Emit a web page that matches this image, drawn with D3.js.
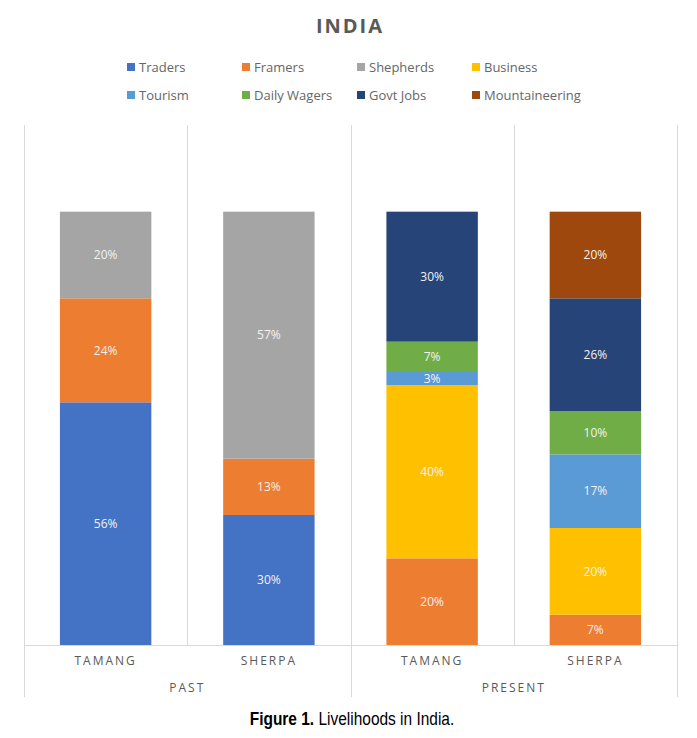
<!DOCTYPE html>
<html>
<head>
<meta charset="utf-8">
<script src="https://cdn.jsdelivr.net/npm/d3@7"></script>
<style>
  body { margin: 0; background: #fff; }
  svg { display: block; }
</style>
</head>
<body>
<div id="chart"></div>
<script>
// data (percent of households)
const periods = ["PAST", "PAST", "PRESENT", "PRESENT"];
const groups = ["TAMANG", "SHERPA", "TAMANG", "SHERPA"];
const series = ["Traders", "Framers", "Shepherds", "Business", "Tourism", "Daily Wagers", "Govt Jobs", "Mountaineering"];
const colors = ["#4472C4", "#ED7D31", "#A5A5A5", "#FFC000", "#5B9BD5", "#70AD47", "#264478", "#9E480E"];
const traders = [56, 30, 0, 0];
const framers = [24, 13, 20, 7];
const shepherds = [20, 57, 0, 0];
const business = [0, 0, 40, 20];
const tourism = [0, 0, 3, 17];
const dailyWagers = [0, 0, 7, 10];
const govtJobs = [0, 0, 30, 26];
const mountaineering = [0, 0, 0, 20];
const yTicks = [0, 120];

const values = [traders, framers, shepherds, business, tourism, dailyWagers, govtJobs, mountaineering];

const W = 697, H = 738;
const plot = {left: 24, right: 677, top: 125, bottom: 645};

const svg = d3.select("#chart")
  .append("svg")
    .attr("width", W)
    .attr("height", H);

// build rows for d3.stack
const rows = groups.map((g, i) => {
  const r = {key: i};
  series.forEach((s, j) => r[s] = values[j][i]);
  return r;
});

const x = d3.scaleBand()
  .domain(rows.map(d => d.key))
  .range([plot.left, plot.right])
  .paddingInner(0.44)
  .paddingOuter(0.22);

const y = d3.scaleLinear()
  .domain(d3.extent(yTicks))
  .range([plot.bottom, plot.top]);

const color = d3.scaleOrdinal().domain(series).range(colors);

const edges = d3.range(5).map(i => plot.left + i * (plot.right - plot.left) / 4);

// gridlines between categories
const grid = svg.append("g").attr("stroke", "#d9d9d9").attr("stroke-width", 1);
edges.forEach((e, i) => {
  const long = (i === 0 || i === 2 || i === 4);
  grid.append("line")
    .attr("x1", Math.round(e) + 0.5).attr("x2", Math.round(e) + 0.5)
    .attr("y1", plot.top).attr("y2", long ? 697 : plot.bottom);
});
grid.append("line")
  .attr("x1", plot.left).attr("x2", plot.right + 1)
  .attr("y1", plot.bottom + 0.5).attr("y2", plot.bottom + 0.5);

// stacked bars
const stacked = d3.stack().keys(series)(rows);

const layer = svg.append("g")
  .selectAll("g")
  .data(stacked)
  .join("g")
    .attr("fill", d => color(d.key));

layer.selectAll("rect")
  .data(d => d.filter(p => p[1] - p[0] > 0))
  .join("rect")
    .attr("x", d => x(d.data.key))
    .attr("width", x.bandwidth())
    .attr("y", d => y(d[1]))
    .attr("height", d => y(d[0]) - y(d[1]));

layer.selectAll("text")
  .data(d => d.filter(p => p[1] - p[0] > 0))
  .join("text")
    .attr("x", d => x(d.data.key) + x.bandwidth() / 2)
    .attr("y", d => (y(d[0]) + y(d[1])) / 2)
    .attr("dy", "0.35em")
    .attr("text-anchor", "middle")
    .attr("fill", "#f2f2f2")
    .style("font", "12px 'Open Sans', sans-serif")
    .text(d => (d[1] - d[0]) + "%");

// category labels
svg.append("g")
  .selectAll("text")
  .data(rows)
  .join("text")
    .attr("x", d => x(d.key) + x.bandwidth() / 2)
    .attr("y", 665)
    .attr("text-anchor", "middle")
    .attr("fill", "#595959")
    .style("font", "12px 'Open Sans', sans-serif")
    .style("letter-spacing", "2px")
    .text(d => groups[d.key]);

const periodNames = Array.from(new Set(periods));
svg.append("g")
  .selectAll("text")
  .data(periodNames)
  .join("text")
    .attr("x", (d, i) => (edges[i * 2] + edges[i * 2 + 2]) / 2)
    .attr("y", 692)
    .attr("text-anchor", "middle")
    .attr("fill", "#595959")
    .style("font", "12px 'Open Sans', sans-serif")
    .style("letter-spacing", "2px")
    .text(d => d);

// title
svg.append("text")
  .attr("x", 350)
  .attr("y", 33)
  .attr("text-anchor", "middle")
  .attr("fill", "#595959")
  .style("font", "bold 20px 'Open Sans', sans-serif")
  .style("letter-spacing", "2px")
  .text("INDIA");

// legend
const legend = svg.append("g")
  .selectAll("g")
  .data(series)
  .join("g")
    .attr("transform", (d, i) => `translate(${127 + (i % 4) * 115},${67 + Math.floor(i / 4) * 28})`);

legend.append("rect")
  .attr("x", 0).attr("y", -4)
  .attr("width", 8).attr("height", 8)
  .attr("fill", d => color(d));

legend.append("text")
  .attr("x", 12)
  .attr("dy", "0.35em")
  .attr("fill", "#666")
  .style("font", "13px 'Open Sans', sans-serif")
  .text(d => d);

// caption (condensed look)
const cap = svg.append("text")
  .attr("transform", "translate(352,725) scale(0.86,1)")
  .attr("text-anchor", "middle")
  .attr("fill", "#000")
  .style("font", "18px 'Liberation Sans Narrow', 'Arial Narrow', 'Liberation Sans', sans-serif");
cap.append("tspan").attr("font-weight", "bold").text("Figure 1.");
cap.append("tspan").text(" Livelihoods in India.");
</script>
</body>
</html>
